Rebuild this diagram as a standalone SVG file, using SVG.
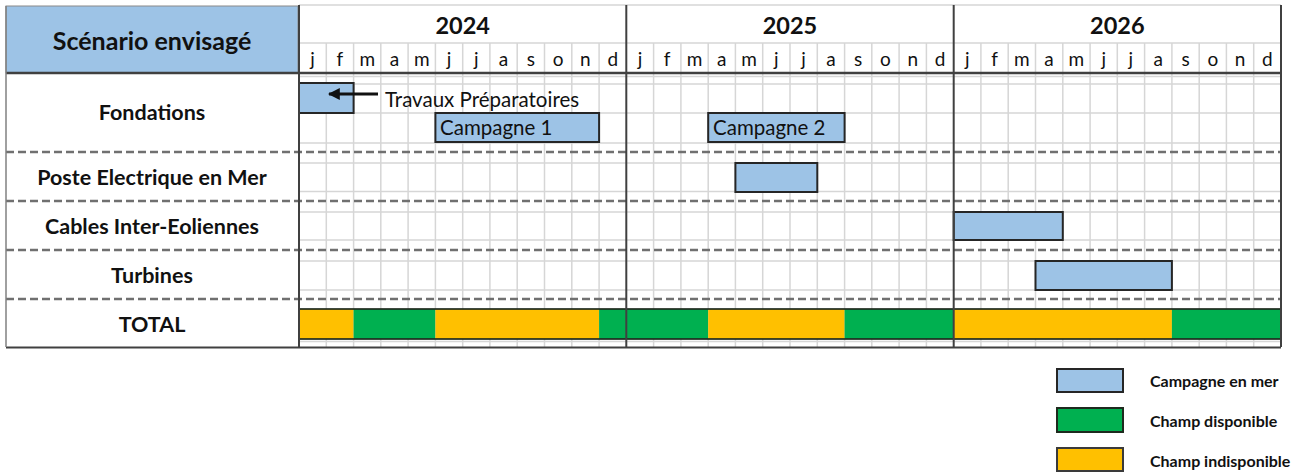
<svg xmlns="http://www.w3.org/2000/svg" width="1303" height="472" viewBox="0 0 1303 472">
<defs>
<style>
.bold{font-family:Lato,"Liberation Sans",sans-serif;font-weight:bold;fill:#111}
.reg{font-family:Lato,"Liberation Sans",sans-serif;fill:#111}
.hdr{font-size:23.5px;text-anchor:middle}
.scn{font-size:25px;text-anchor:middle}
.row{font-size:21.5px;text-anchor:middle}
.mon{font-size:19px;text-anchor:middle}
.lbl{font-size:20.5px}
.leg{font-size:16px}
.grid{stroke:#d6d6d6;stroke-width:1.5;fill:none}
.dash{stroke:#707070;stroke-width:2.5;stroke-dasharray:8 4;fill:none}
.dark{stroke:#404040;stroke-width:2;fill:none}
.bar{fill:#9DC3E6;stroke:#262626;stroke-width:2}
.grn{fill:#00B050}
.yel{fill:#FFC000}
</style>
<marker id="ah" viewBox="0 0 10 10" refX="9" refY="5" markerWidth="4" markerHeight="4" orient="auto-start-reverse">
<path d="M0,0 L10,5 L0,10 z" fill="#111"/>
</marker>
</defs>
<rect x="0" y="0" width="1303" height="472" fill="#fff"/>

<g id="grid">
<path class="grid" d="M299,5H1281 M299,43H1281 M299,76.5H1281 M299,84H1281 M299,113H1281 M299,143H1281 M299,163H1281 M299,191.5H1281 M299,212H1281 M299,240H1281 M299,261H1281 M299,290H1281 M299,341.5H1281"/>
<path class="grid" d="M326.3,43V347 M353.6,43V347 M380.8,43V347 M408.1,43V347 M435.4,43V347 M462.7,43V347 M489.9,43V347 M517.2,43V347 M544.5,43V347 M571.8,43V347 M599.1,43V347 M653.6,43V347 M680.9,43V347 M708.2,43V347 M735.4,43V347 M762.7,43V347 M790,43V347 M817.3,43V347 M844.6,43V347 M871.8,43V347 M899.1,43V347 M926.4,43V347 M980.9,43V347 M1008.2,43V347 M1035.5,43V347 M1062.8,43V347 M1090.1,43V347 M1117.3,43V347 M1144.6,43V347 M1171.9,43V347 M1199.2,43V347 M1226.4,43V347 M1253.7,43V347"/>
</g>

<g id="header">
<rect x="6" y="6" width="292" height="67" fill="#9DC3E6" stroke="#8a8a8a" stroke-width="1"/>
<text class="bold scn" x="152" y="50">Scénario envisagé</text>
<text class="bold hdr" x="462.7" y="34">2024</text>
<text class="bold hdr" x="790" y="34">2025</text>
<text class="bold hdr" x="1117.3" y="34">2026</text>
<g class="reg mon">
<text x="312.6" y="66">j</text><text x="339.9" y="66">f</text><text x="367.2" y="66">m</text><text x="394.5" y="66">a</text><text x="421.8" y="66">m</text><text x="449" y="66">j</text><text x="476.3" y="66">j</text><text x="503.6" y="66">a</text><text x="530.9" y="66">s</text><text x="558.1" y="66">o</text><text x="585.4" y="66">n</text><text x="612.7" y="66">d</text>
<text x="640" y="66">j</text><text x="667.2" y="66">f</text><text x="694.5" y="66">m</text><text x="721.8" y="66">a</text><text x="749.1" y="66">m</text><text x="776.3" y="66">j</text><text x="803.6" y="66">j</text><text x="830.9" y="66">a</text><text x="858.2" y="66">s</text><text x="885.4" y="66">o</text><text x="912.7" y="66">n</text><text x="940" y="66">d</text>
<text x="967.3" y="66">j</text><text x="994.6" y="66">f</text><text x="1021.8" y="66">m</text><text x="1049.1" y="66">a</text><text x="1076.4" y="66">m</text><text x="1103.7" y="66">j</text><text x="1130.9" y="66">j</text><text x="1158.2" y="66">a</text><text x="1185.5" y="66">s</text><text x="1212.8" y="66">o</text><text x="1240" y="66">n</text><text x="1267.3" y="66">d</text>
</g>
</g>

<g id="row-fondations">
<text class="bold row" x="152" y="120">Fondations</text>
<rect class="bar" x="299" y="83" width="54.6" height="30"/>
<text class="reg lbl" x="385" y="107">Travaux Préparatoires</text>
<rect class="bar" x="435.4" y="113" width="163.7" height="29"/>
<text class="reg lbl" x="440" y="135">Campagne 1</text>
<rect class="bar" x="708.2" y="113" width="136.4" height="29"/>
<text class="reg lbl" x="713" y="135">Campagne 2</text>
</g>

<g id="row-poste">
<text class="bold row" x="152" y="185">Poste Electrique en Mer</text>
<rect class="bar" x="735.4" y="163" width="81.9" height="29"/>
</g>

<g id="row-cables">
<text class="bold row" x="152" y="234">Cables Inter-Eoliennes</text>
<rect class="bar" x="953.7" y="212" width="109.1" height="28"/>
</g>

<g id="row-turbines">
<text class="bold row" x="152" y="283">Turbines</text>
<rect class="bar" x="1035.5" y="261" width="136.4" height="29"/>
</g>

<g id="row-total">
<text class="bold row" x="152" y="332">TOTAL</text>
<rect class="yel" x="299" y="309" width="54.6" height="30"/>
<rect class="grn" x="353.6" y="309" width="81.8" height="30"/>
<rect class="yel" x="435.4" y="309" width="163.7" height="30"/>
<rect class="grn" x="599.1" y="309" width="109.1" height="30"/>
<rect class="yel" x="708.2" y="309" width="136.4" height="30"/>
<rect class="grn" x="844.6" y="309" width="109.1" height="30"/>
<rect class="yel" x="953.7" y="309" width="218.2" height="30"/>
<rect class="grn" x="1171.9" y="309" width="109.1" height="30"/>
<path d="M299,309H1281 M299,339H1281" stroke="#1e2a1e" stroke-width="2" opacity="0.85" fill="none"/>
</g>

<g id="frame">
<path class="dash" d="M6,152H1281 M6,201H1281 M6,250H1281 M6,299H1281"/>
<path d="M6,73H1281" stroke="#404040" stroke-width="2.5" fill="none"/>
<path class="dark" d="M299,5V347 M626.3,5V347 M953.7,5V347 M1281,5V347 M6,347.5H1281"/>
<path d="M6,6V347" stroke="#808080" stroke-width="1.5" fill="none"/>
</g>

<g id="connectors">
<path d="M378,94H329" stroke="#111" stroke-width="3" fill="none" marker-end="url(#ah)"/>
</g>

<g id="legend">
<rect class="bar" x="1057" y="369" width="66" height="23" stroke="#3a3a3a"/>
<text class="bold leg" x="1150" y="387">Campagne en mer</text>
<rect class="grn" x="1057" y="408" width="66" height="24" stroke="#1e2a1e" stroke-width="2"/>
<text class="bold leg" x="1150" y="427">Champ disponible</text>
<rect class="yel" x="1057" y="448" width="66" height="23" stroke="#3a3a3a" stroke-width="2"/>
<text class="bold leg" x="1150" y="467">Champ indisponible</text>
</g>
</svg>
